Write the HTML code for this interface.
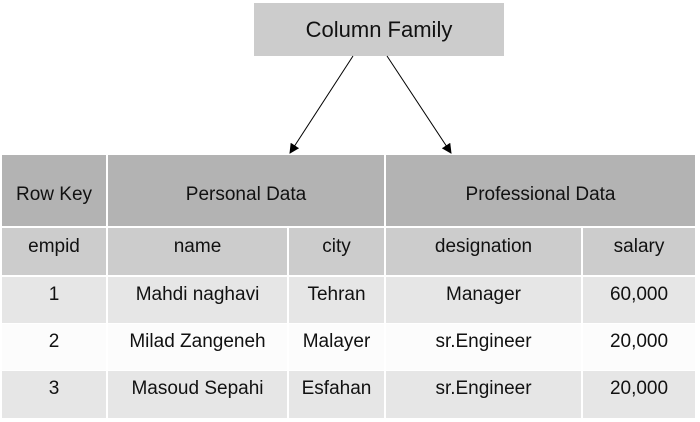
<!DOCTYPE html>
<html><head><style>
body{margin:0;width:700px;height:422px;background:#fff;position:relative;font-family:"Liberation Sans","DejaVu Sans",sans-serif;color:#111;overflow:hidden}
.c{position:absolute;display:flex;align-items:center;justify-content:center;font-size:19px;box-sizing:border-box}
</style></head><body>
<div class="c" style="left:254px;top:3px;width:250px;height:53px;background:#cccccc;font-size:22px">Column Family</div>
<svg width="700" height="160" style="position:absolute;left:0;top:0">
<defs><marker id="a" markerWidth="10" markerHeight="10" refX="9" refY="5" orient="auto" markerUnits="userSpaceOnUse"><path d="M0,0 L10,5 L0,10z" fill="#000"/></marker></defs>
<line x1="353" y1="56" x2="290" y2="153" stroke="#000" stroke-width="1" marker-end="url(#a)"/>
<line x1="387" y1="56" x2="451" y2="153" stroke="#000" stroke-width="1" marker-end="url(#a)"/>
</svg>
<div class="c" style="left:2px;top:155px;width:104px;height:71px;background:#b3b3b3;padding-top:8px">Row Key</div>
<div class="c" style="left:108px;top:155px;width:276px;height:71px;background:#b3b3b3;padding-top:8px">Personal Data</div>
<div class="c" style="left:386px;top:155px;width:309px;height:71px;background:#b3b3b3;padding-top:8px">Professional Data</div>
<div class="c" style="left:2px;top:228px;width:104px;height:47px;background:#cccccc;padding-bottom:10px">empid</div>
<div class="c" style="left:108px;top:228px;width:179px;height:47px;background:#cccccc;padding-bottom:10px">name</div>
<div class="c" style="left:289px;top:228px;width:95px;height:47px;background:#cccccc;padding-bottom:10px">city</div>
<div class="c" style="left:386px;top:228px;width:195px;height:47px;background:#cccccc;padding-bottom:10px">designation</div>
<div class="c" style="left:583px;top:228px;width:112px;height:47px;background:#cccccc;padding-bottom:10px">salary</div>
<div class="c" style="left:2px;top:277px;width:104px;height:46px;background:#e6e6e6;padding-bottom:10px">1</div>
<div class="c" style="left:108px;top:277px;width:179px;height:46px;background:#e6e6e6;padding-bottom:10px">Mahdi naghavi</div>
<div class="c" style="left:289px;top:277px;width:95px;height:46px;background:#e6e6e6;padding-bottom:10px">Tehran</div>
<div class="c" style="left:386px;top:277px;width:195px;height:46px;background:#e6e6e6;padding-bottom:10px">Manager</div>
<div class="c" style="left:583px;top:277px;width:112px;height:46px;background:#e6e6e6;padding-bottom:10px">60,000</div>
<div class="c" style="left:2px;top:324px;width:104px;height:46px;background:#fcfcfc;padding-bottom:10px">2</div>
<div class="c" style="left:108px;top:324px;width:179px;height:46px;background:#fcfcfc;padding-bottom:10px">Milad Zangeneh</div>
<div class="c" style="left:289px;top:324px;width:95px;height:46px;background:#fcfcfc;padding-bottom:10px">Malayer</div>
<div class="c" style="left:386px;top:324px;width:195px;height:46px;background:#fcfcfc;padding-bottom:10px">sr.Engineer</div>
<div class="c" style="left:583px;top:324px;width:112px;height:46px;background:#fcfcfc;padding-bottom:10px">20,000</div>
<div class="c" style="left:2px;top:371px;width:104px;height:47px;background:#e6e6e6;padding-bottom:12px">3</div>
<div class="c" style="left:108px;top:371px;width:179px;height:47px;background:#e6e6e6;padding-bottom:12px">Masoud Sepahi</div>
<div class="c" style="left:289px;top:371px;width:95px;height:47px;background:#e6e6e6;padding-bottom:12px">Esfahan</div>
<div class="c" style="left:386px;top:371px;width:195px;height:47px;background:#e6e6e6;padding-bottom:12px">sr.Engineer</div>
<div class="c" style="left:583px;top:371px;width:112px;height:47px;background:#e6e6e6;padding-bottom:12px">20,000</div>
</body></html>
